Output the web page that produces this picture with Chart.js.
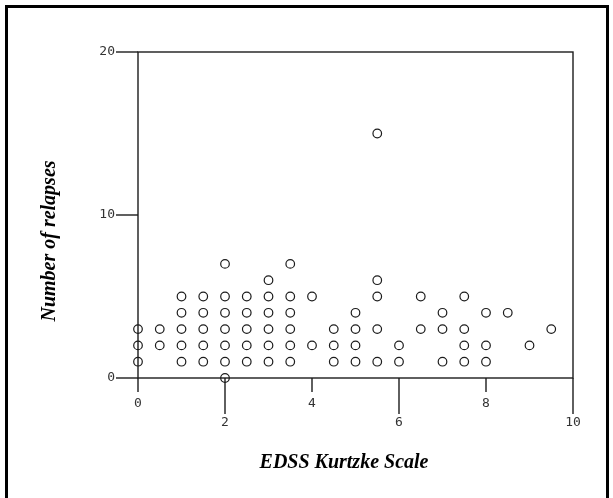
<!DOCTYPE html>
<html>
<head>
<meta charset="utf-8">
<script src="https://cdn.jsdelivr.net/npm/chart.js@4.4.1/dist/chart.umd.min.js"></script>
<style>
  html,body{margin:0;padding:0;background:#fff}
  canvas{display:block}
</style>
</head>
<body>
<canvas id="c" width="613" height="498"></canvas>
<script>
// EDSS score columns and the relapse counts found at each one
const edssLevels = [0, 0.5, 1, 1.5, 2, 2.5, 3, 3.5, 4, 4.5, 5, 5.5, 6, 6.5, 7, 7.5, 8, 8.5, 9, 9.5];
const relapseCounts = [
  [1,2,3], [2,3], [1,2,3,4,5], [1,2,3,4,5], [0,1,2,3,4,5,7],
  [1,2,3,4,5], [1,2,3,4,5,6], [1,2,3,4,5,7], [2,5], [1,2,3],
  [1,2,3,4], [1,3,5,6,15], [1,2], [3,5], [1,3,4],
  [1,2,3,5], [1,2,4], [4], [2], [3]
];
const xTicks = [0, 2, 4, 6, 8, 10];
const yTicks = [0, 10, 20];
const xTitle = 'EDSS Kurtzke Scale';
const yTitle = 'Number of relapses';

const points = [];
edssLevels.forEach((e,i)=>relapseCounts[i].forEach(r=>points.push({x:e,y:r})));

const ink = '#1c1c1c';
const tickFont = '13px "DejaVu Sans Mono"';
const titleFont = 'italic bold 20px "Liberation Serif"';

const axesPlugin = {
  id:'axesPlugin',
  beforeDatasetsDraw(chart){
    const {ctx, chartArea:a, scales:{x,y}} = chart;
    ctx.save();
    // page border (left, top, right)
    ctx.strokeStyle = '#000'; ctx.lineWidth = 3;
    ctx.beginPath(); ctx.moveTo(6.5,498); ctx.lineTo(6.5,6.5); ctx.lineTo(607.5,6.5); ctx.lineTo(607.5,498); ctx.stroke();

    // plot box
    ctx.strokeStyle = ink; ctx.lineWidth = 1.4;
    ctx.strokeRect(a.left, a.top, a.right-a.left, a.bottom-a.top);

    // y ticks + labels
    ctx.fillStyle = '#333'; ctx.font = tickFont;
    ctx.textAlign = 'right'; ctx.textBaseline = 'middle';
    yTicks.forEach(v=>{
      const py = y.getPixelForValue(v);
      ctx.beginPath(); ctx.moveTo(a.left-22, py); ctx.lineTo(a.left, py); ctx.stroke();
      ctx.fillText(String(v), a.left-23, py);
    });

    // x ticks, staggered labels
    ctx.textAlign = 'center';
    xTicks.forEach((v,i)=>{
      const px = x.getPixelForValue(v);
      const len = i%2===0 ? 14 : 36;
      ctx.beginPath(); ctx.moveTo(px, a.bottom); ctx.lineTo(px, a.bottom+len); ctx.stroke();
      ctx.fillText(String(v), px, a.bottom + (i%2===0 ? 26 : 45));
    });

    // titles
    ctx.fillStyle = '#000'; ctx.font = titleFont;
    ctx.fillText(xTitle, 344, 463);
    ctx.save();
    ctx.translate(50, 241); ctx.rotate(-Math.PI/2);
    ctx.fillText(yTitle, 0, 0);
    ctx.restore();
    ctx.restore();
  }
};

new Chart(document.getElementById('c'), {
  type:'scatter',
  data:{datasets:[{
    data:points,
    pointStyle:'circle',
    pointRadius:4.3,
    pointHoverRadius:4.3,
    borderColor:ink,
    borderWidth:1.2,
    backgroundColor:'rgba(0,0,0,0)',
    clip:false
  }]},
  options:{
    responsive:false,
    animation:false,
    events:[],
    layout:{padding:{left:138, right:40, top:52, bottom:120}},
    plugins:{legend:{display:false}, tooltip:{enabled:false}},
    scales:{
      x:{type:'linear', min:0, max:10, display:false},
      y:{type:'linear', min:0, max:20, display:false}
    }
  },
  plugins:[axesPlugin]
});
</script>
</body>
</html>
